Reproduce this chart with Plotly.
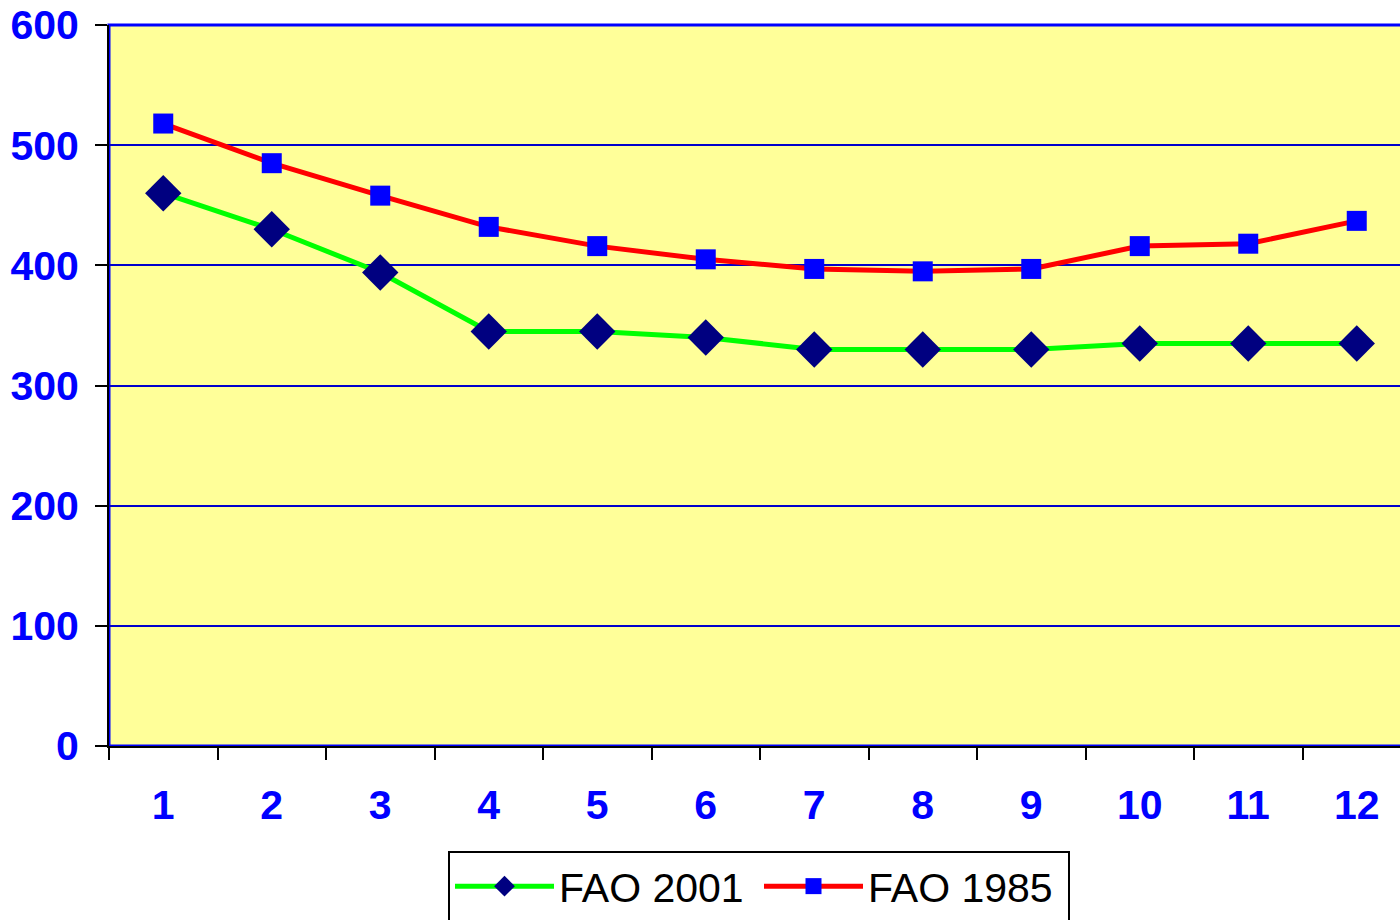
import plotly.graph_objects as go

categories = ["1", "2", "3", "4", "5", "6", "7", "8", "9", "10", "11", "12"]
fao_2001 = [460, 430, 394, 345, 345, 340, 330, 330, 330, 335, 335, 335]
fao_1985 = [518, 485, 458, 432, 416, 405, 397, 395, 397, 416, 418, 437]
y_ticks = [0, 100, 200, 300, 400, 500, 600]

W, H = 1400, 920
L, T, B = 109, 25, 174
plot_w = W - L
cat_px = 108.5

fig = go.Figure()
fig.add_trace(go.Scatter(
    x=categories, y=fao_2001, name="FAO 2001", mode="lines+markers",
    line=dict(color="#00FF00", width=5),
    marker=dict(symbol="diamond", size=28, color="#000080"),
))
fig.add_trace(go.Scatter(
    x=categories, y=fao_1985, name="FAO 1985", mode="lines+markers",
    line=dict(color="#FF0000", width=5),
    marker=dict(symbol="square", size=20, color="#0000FF"),
))

tick_font = dict(family="Liberation Sans, Arial", size=41, color="#0000FF", weight="bold")

fig.update_layout(
    width=W, height=H,
    margin=dict(l=L, r=0, t=T, b=B, autoexpand=False),
    paper_bgcolor="white",
    plot_bgcolor="#FFFF99",
    showlegend=True,
    legend=dict(
        orientation="h", x=(759 - L) / plot_w, xanchor="center", y=-0.1456, yanchor="top",
        font=dict(family="Liberation Sans, Arial", size=41, color="black"),
        bordercolor="black", borderwidth=2, bgcolor="white",
        itemwidth=99, itemsizing="trace", entrywidth=195, entrywidthmode="pixels",
    ),
    xaxis=dict(
        type="category", categoryorder="array", categoryarray=categories,
        range=[-0.5, -0.5 + plot_w / cat_px], automargin=False,
        tickson="boundaries", ticks="outside", ticklen=12, tickwidth=2, tickcolor="black",
        showgrid=False, zeroline=False,
        showline=True, linecolor="black", linewidth=2,
        tickfont=tick_font, ticklabelstandoff=22, ticklabeloverflow="allow",
    ),
    yaxis=dict(
        range=[0, 600], tickvals=y_ticks, automargin=False,
        ticks="outside", ticklen=12, tickwidth=2, tickcolor="black",
        showgrid=True, gridcolor="#0000CC", gridwidth=1.5, zeroline=False,
        showline=True, linecolor="black", linewidth=2,
        tickfont=tick_font, ticklabelstandoff=8, ticklabeloverflow="allow",
    ),
    shapes=[dict(type="rect", xref="paper", yref="paper", x0=0, x1=1.02, y0=0, y1=1,
                 line=dict(color="#0000FF", width=3), layer="below")],
)

fig.write_html(
    "out.html",
    config={"displayModeBar": False},
    post_script="document.body.style.margin='0';document.body.style.overflow='hidden';",
)
